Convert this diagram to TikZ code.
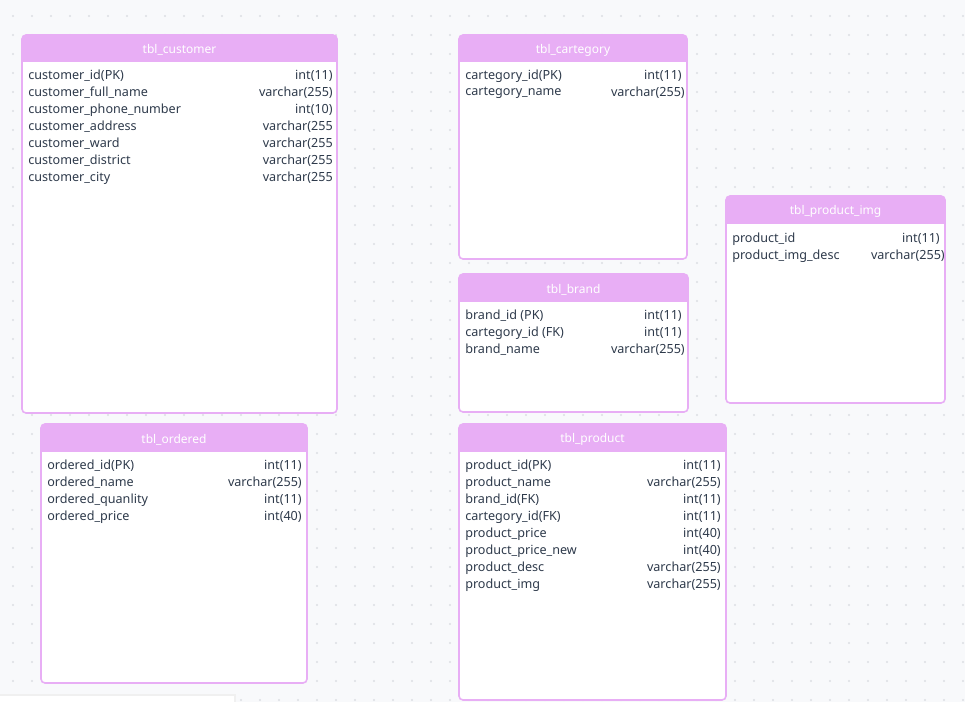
\documentclass[tikz,border=0pt]{standalone}
\usepackage{fontspec}
\setmainfont{Noto Sans}
\usepackage{tikz}

\definecolor{tblpink}{HTML}{E8AEF5}
\definecolor{fieldtext}{HTML}{2E3A4B}
\definecolor{canvas}{HTML}{F8F9FB}
\definecolor{dotgray}{HTML}{DCDEE3}

\tikzset{
  tblframe/.style={draw=tblpink, line width=1.2pt, rounded corners=3pt},
  tblhead/.style={fill=tblpink},
  title/.style={text=white, inner sep=0pt, font=\fontsize{9}{11}\selectfont},
  field/.style={text=fieldtext, inner sep=0pt, font=\fontsize{9.45}{12}\selectfont},
}

\begin{document}
\begin{tikzpicture}[x=0.75pt, y=-0.75pt]
\useasboundingbox (0,0) rectangle (965,702);

% draw background and dot grid
\fill[canvas] (0,0) rectangle (965,702);
\foreach \i in {0,...,50}
\foreach \j in {0,...,36}
\fill[dotgray] (13+19*\i,16+19*\j) circle (0.8pt);

% draw tbl_customer
\fill[white, rounded corners=3pt] (22,35) rectangle (337,413);
\begin{scope}
\clip[rounded corners=3pt] (22,35) rectangle (337,413);
\fill[tblhead] (22,35) rectangle (337,62);
\end{scope}
\draw[tblframe] (22,35) rectangle (337,413);
\node[title] (customer) at (179.5,50) {tbl\_customer};
\foreach \f/\t [count=\i] in {customer\_id(PK)/int(11), customer\_full\_name/varchar(255),
  customer\_phone\_number/int(10), customer\_address/varchar(255, customer\_ward/varchar(255,
  customer\_district/varchar(255, customer\_city/varchar(255}
{
\node[field, anchor=west] (customer-f\i) at (28,59+17*\i) {\f};
\node[field, anchor=east] (customer-t\i) at (333,59+17*\i) {\t};
}

% draw tbl_cartegory
\fill[white, rounded corners=3pt] (459,35) rectangle (687,259);
\begin{scope}
\clip[rounded corners=3pt] (459,35) rectangle (687,259);
\fill[tblhead] (459,35) rectangle (687,62);
\end{scope}
\draw[tblframe] (459,35) rectangle (687,259);
\node[title] (cartegory) at (573,50) {tbl\_cartegory};
\foreach \f/\t/\r [count=\i] in {cartegory\_id(PK)/int(11)/682, cartegory\_name/varchar(255)/685}
{
\node[field, anchor=west] (cartegory-f\i) at (465,59+17*\i) {\f};
\node[field, anchor=east] (cartegory-t\i) at (\r,59+17*\i) {\t};
}

% draw tbl_product_img
\fill[white, rounded corners=3pt] (726,196) rectangle (945,403);
\begin{scope}
\clip[rounded corners=3pt] (726,196) rectangle (945,403);
\fill[tblhead] (726,196) rectangle (945,224);
\end{scope}
\draw[tblframe] (726,196) rectangle (945,403);
\node[title] (productimg) at (835.5,211.5) {tbl\_product\_img};
\foreach \f/\t/\r [count=\i] in {product\_id/int(11)/940, product\_img\_desc/varchar(255)/945}
{
\node[field, anchor=west] (productimg-f\i) at (732,222+17*\i) {\f};
\node[field, anchor=east] (productimg-t\i) at (\r,222+17*\i) {\t};
}

% draw tbl_brand
\fill[white, rounded corners=3pt] (459,274) rectangle (688,412);
\begin{scope}
\clip[rounded corners=3pt] (459,274) rectangle (688,412);
\fill[tblhead] (459,274) rectangle (688,302);
\end{scope}
\draw[tblframe] (459,274) rectangle (688,412);
\node[title] (brand) at (573.5,289.5) {tbl\_brand};
\foreach \f/\t/\r [count=\i] in {brand\_id (PK)/int(11)/682, cartegory\_id (FK)/int(11)/682,
  brand\_name/varchar(255)/685}
{
\node[field, anchor=west] (brand-f\i) at (465,299+17*\i) {\f};
\node[field, anchor=east] (brand-t\i) at (\r,299+17*\i) {\t};
}

% draw tbl_ordered
\fill[white, rounded corners=3pt] (41,424) rectangle (307,683);
\begin{scope}
\clip[rounded corners=3pt] (41,424) rectangle (307,683);
\fill[tblhead] (41,424) rectangle (307,452);
\end{scope}
\draw[tblframe] (41,424) rectangle (307,683);
\node[title] (ordered) at (174,439.5) {tbl\_ordered};
\foreach \f/\t [count=\i] in {ordered\_id(PK)/int(11), ordered\_name/varchar(255),
  ordered\_quanlity/int(11), ordered\_price/int(40)}
{
\node[field, anchor=west] (ordered-f\i) at (47,449+17*\i) {\f};
\node[field, anchor=east] (ordered-t\i) at (302,449+17*\i) {\t};
}

% draw tbl_product
\fill[white, rounded corners=3pt] (459,424) rectangle (726,700);
\begin{scope}
\clip[rounded corners=3pt] (459,424) rectangle (726,700);
\fill[tblhead] (459,424) rectangle (726,452);
\end{scope}
\draw[tblframe] (459,424) rectangle (726,700);
\node[title] (product) at (592.5,439.5) {tbl\_product};
\foreach \f/\t [count=\i] in {product\_id(PK)/int(11), product\_name/varchar(255),
  brand\_id(FK)/int(11), cartegory\_id(FK)/int(11), product\_price/int(40),
  product\_price\_new/int(40), product\_desc/varchar(255), product\_img/varchar(255)}
{
\node[field, anchor=west] (product-f\i) at (465,449+17*\i) {\f};
\node[field, anchor=east] (product-t\i) at (721,449+17*\i) {\t};
}

% draw bottom strip
\fill[black!6] (0,694) rectangle (236,702);
\fill[white] (0,696) rectangle (234,702);

\end{tikzpicture}
\end{document}
